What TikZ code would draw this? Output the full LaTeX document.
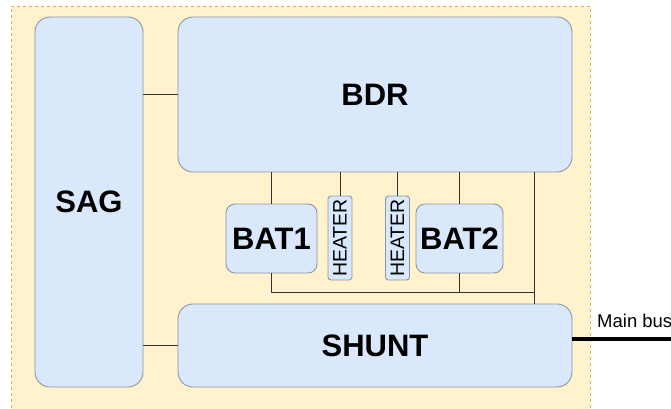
\documentclass[tikz,border=0pt]{standalone}
\usepackage{fontspec}
\setmainfont{Liberation Sans}
\usepackage{tikz}

\definecolor{panel}{HTML}{FFF2CC}
\definecolor{panelline}{HTML}{D6B656}
\definecolor{blockfill}{HTML}{DAE8FC}
\definecolor{blockline}{HTML}{8C96A4}
\definecolor{wire}{HTML}{333333}

\begin{document}
\begin{tikzpicture}[x=1pt,y=-1pt,
  block/.style={draw=blockline,fill=blockfill,line width=0.9pt,rounded corners=15pt,
    inner sep=0pt,font=\fontsize{31}{33}\selectfont\bfseries},
  batt/.style={block,rounded corners=9pt},
  heat/.style={draw=blockline,fill=blockfill,line width=0.9pt,rounded corners=3pt,
    inner sep=0pt,minimum width=24pt,minimum height=84pt},
  wire/.style={draw=wire,line width=0.9pt}]
\useasboundingbox (0,0) rectangle (671,409);
\fill[panel] (11,6) rectangle (590,414);
\draw[panelline,dashed,line width=0.6pt] (11,414) -- (11,6) -- (590,6) -- (590,414);

\node[block,minimum width=108pt,minimum height=370pt] (SAG)   at (89,202)    {SAG};
\node[block,minimum width=394pt,minimum height=155pt] (BDR)   at (375,94.5)  {BDR};
\node[block,minimum width=394pt,minimum height=83pt]  (SHUNT) at (375,345.5) {SHUNT};
\node[batt,minimum width=91pt,minimum height=69pt]    (BAT1)  at (271.5,238.5) {BAT1};
\node[batt,minimum width=87pt,minimum height=69pt]    (BAT2)  at (459.5,238.5) {BAT2};
\node[heat] (HT1) at (340,238) {};
\node[heat] (HT2) at (397.5,238) {};
\node[rotate=90,font=\fontsize{19.5}{20}\selectfont] at (HT1) {HEATER};
\node[rotate=90,font=\fontsize{19.5}{20}\selectfont] at (HT2) {HEATER};

\coordinate (jr) at (534,292);
\coordinate (busend) at (671,339);

\draw[wire] (SAG.east |- BDR.west) -- (BDR.west);
\draw[wire] (SAG.east |- SHUNT.west) -- (SHUNT.west);
\draw[wire] (BAT1.north) -- (BAT1.north |- BDR.south);
\draw[wire] (HT1.north) -- (HT1.north |- BDR.south);
\draw[wire] (HT2.north) -- (HT2.north |- BDR.south);
\draw[wire] (BAT2.north) -- (BAT2.north |- BDR.south);
\draw[wire] (BAT1.south) |- (jr);
\draw[wire] (BAT2.south) -- (BAT2.south |- jr);
\draw[wire] (jr |- BDR.south) -- (jr |- SHUNT.north);

\draw[black,line width=4pt] (SHUNT.east |- busend) -- (busend);
\node[anchor=south west,inner sep=0pt,font=\fontsize{18.5}{20}\selectfont] (mainbus) at (597,328) {Main bus};
\end{tikzpicture}
\end{document}
